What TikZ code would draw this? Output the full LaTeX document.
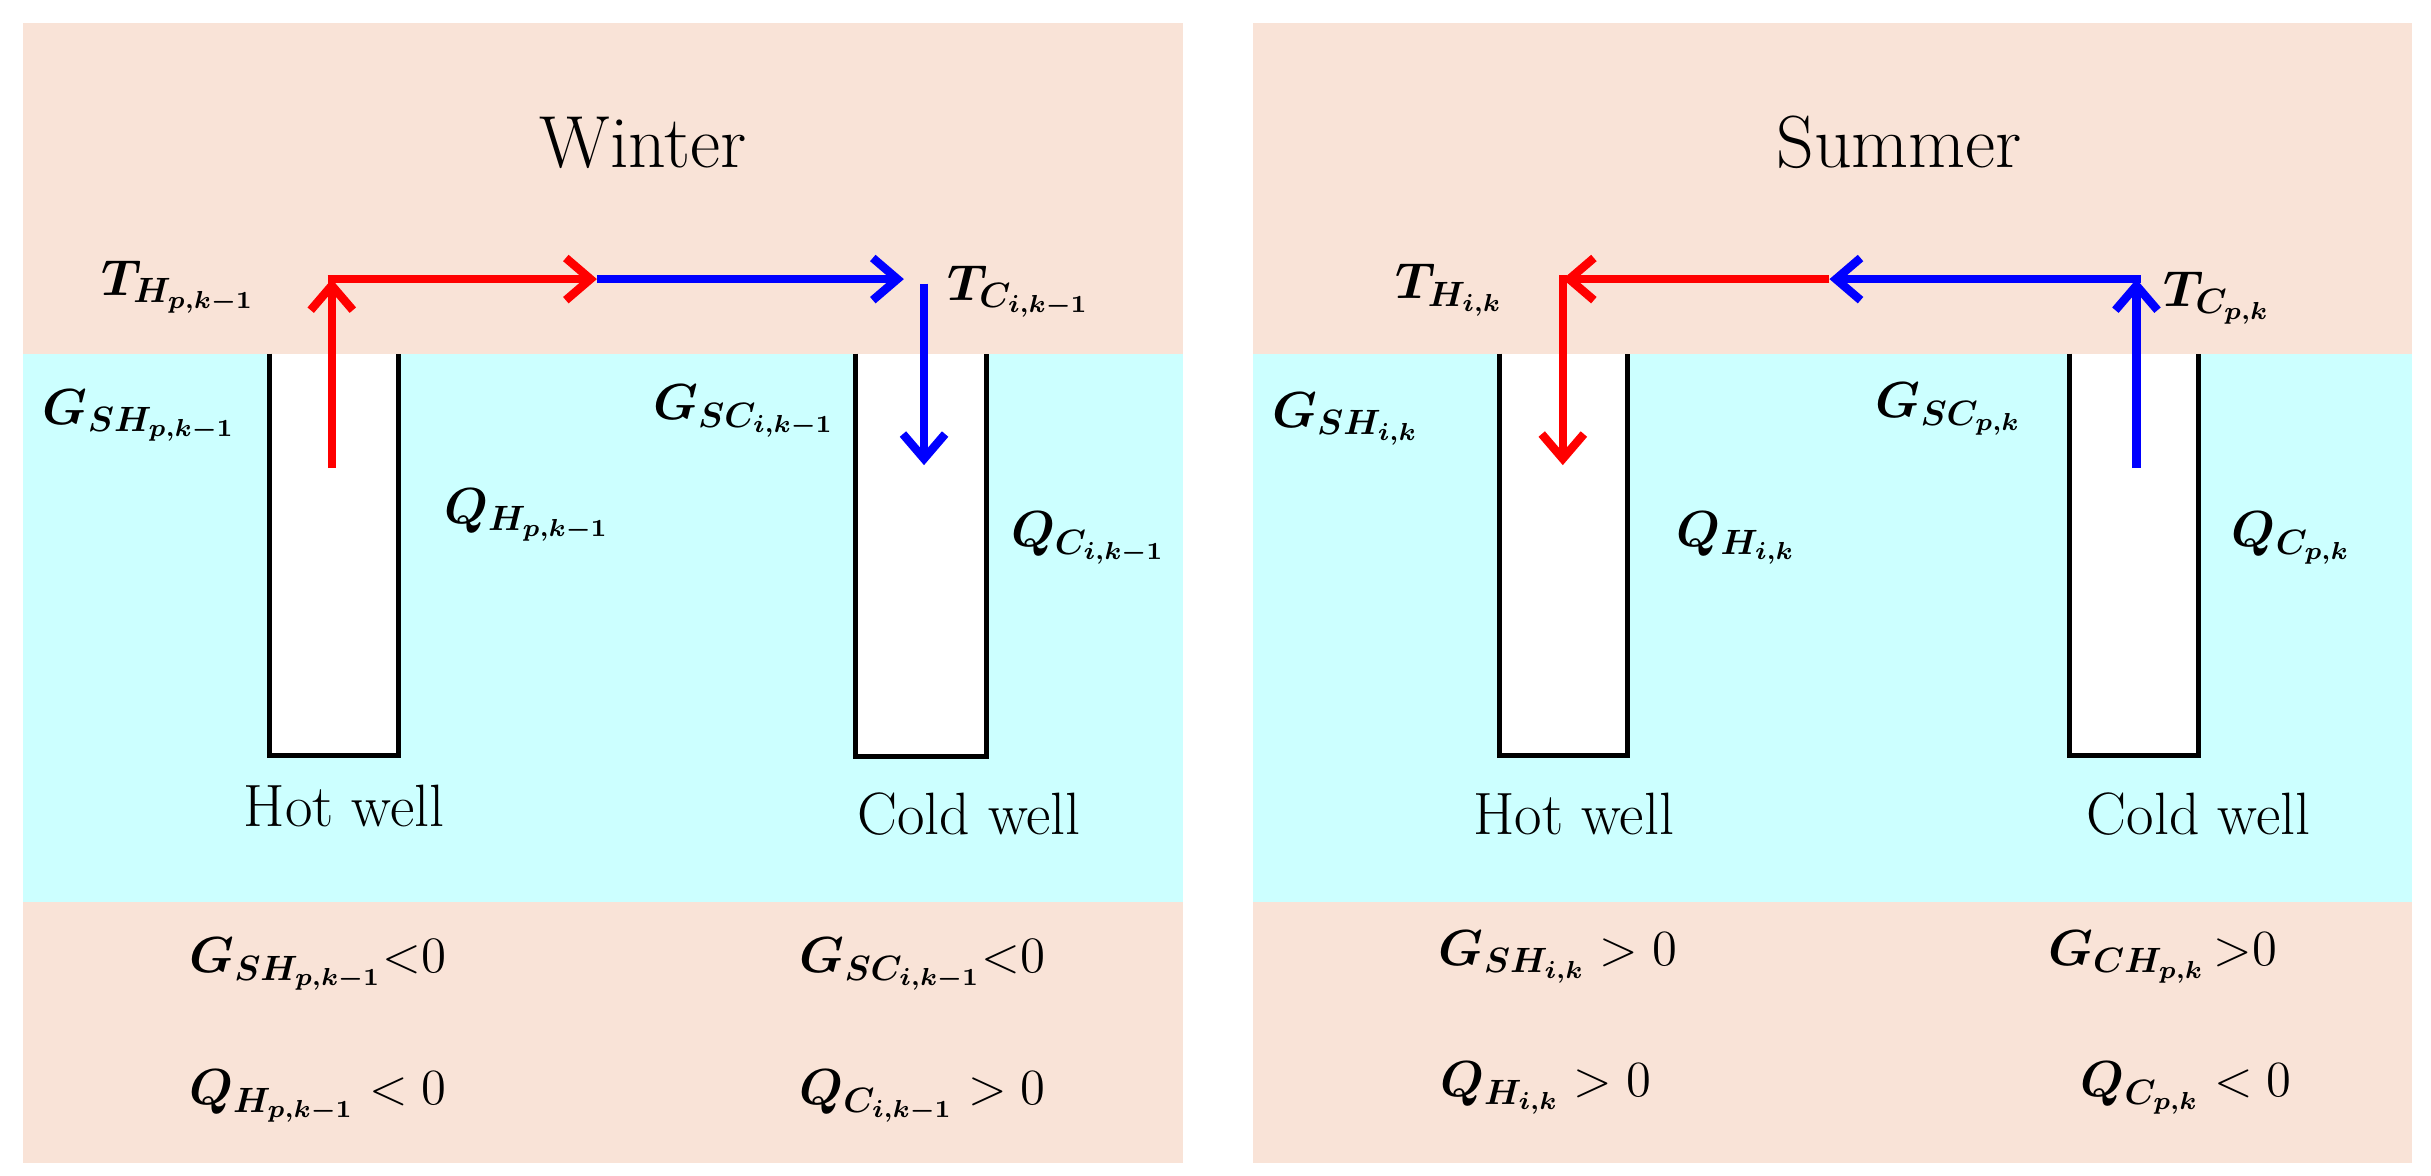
\documentclass[tikz,border=0pt]{standalone}
\usepackage{amsmath}
\usepackage{bm}
\usetikzlibrary{arrows.meta}
\usetikzlibrary{positioning}
\definecolor{peach}{HTML}{F9E3D7}
\definecolor{aqua}{HTML}{CCFFFF}
\begin{document}
\begin{tikzpicture}[x=0.0155cm,y=-0.0155cm,
    flow/.style={line width=2.4pt,-{Straight Barb[length=7pt,width=12pt,line width=2.4pt]}},
    well/.style={draw,line width=1.4pt,fill=white},
    lbl/.style={font=\fontsize{14.5}{17}\selectfont},
    title/.style={font=\fontsize{21}{25}\selectfont},
    wtext/.style={font=\fontsize{17}{20}\selectfont}]
  \useasboundingbox (0,0) rectangle (1568,758);
  % backgrounds
  \fill[peach] (15,15) rectangle (763,750);
  \fill[peach] (808,15) rectangle (1556,750);
  \fill[aqua] (15,228) rectangle (763,582);
  \fill[aqua] (808,228) rectangle (1556,582);
  % wells
  \draw[well] (174,228) -- (174,487) -- (257,487) -- (257,228);
  \draw[well] (552,228) -- (552,488) -- (636,488) -- (636,228);
  \draw[well] (967,228) -- (967,487) -- (1050,487) -- (1050,228);
  \draw[well] (1335,228) -- (1335,487) -- (1418,487) -- (1418,228);

  % winter
  \node[title] (win) at (415,92) {Winter};
  \coordinate (hpin) at (214,302);
  \coordinate (hptop) at (214,180);
  \coordinate (mid1) at (385,180);
  \coordinate (ctop1) at (583,180);
  \coordinate (cin) at (596,183);
  \coordinate (cbot) at (596,300);
  \draw[flow,red] (hpin) -- (hptop);
  \draw[flow,red,shorten <=-1.2pt] (hptop) -- (mid1);
  \draw[flow,blue] (mid1) -- (ctop1);
  \draw[flow,blue] (cin) -- (cbot);
  \node[lbl] (th1) at (115,185) {$\bm{T_{H_{p,k-1}}}$};
  \node[lbl] (tc1) at (657,188) {$\bm{T_{C_{i,k-1}}}$};
  \node[lbl] (gh1) at (90,268) {$\bm{G_{SH_{p,k-1}}}$};
  \node[lbl] (qh1) at (340,332) {$\bm{Q_{H_{p,k-1}}}$};
  \node[lbl] (gc1) at (480,265) {$\bm{G_{SC_{i,k-1}}}$};
  \node[lbl] (qc1) at (702,347) {$\bm{Q_{C_{i,k-1}}}$};
  \node[wtext] (hw1) at (222,520) {Hot well};
  \node[wtext] (cw1) at (625,525) {Cold well};
  \node[lbl] (r1) at (205,622) {$\bm{G_{SH_{p,k-1}}}${<}0};
  \node[lbl] (r2) at (205,707) {$\bm{Q_{H_{p,k-1}}} <0$};
  \node[lbl] (r3) at (595,622) {$\bm{G_{SC_{i,k-1}}}${<}0};
  \node[lbl] (r4) at (595,707) {$\bm{Q_{C_{i,k-1}}} >0$};

  % summer
  \node[title] (sum) at (1225,92) {Summer};
  \coordinate (cpin) at (1378,302);
  \coordinate (cptop) at (1378,180);
  \coordinate (mid2) at (1180,180);
  \coordinate (htop2) at (1008,180);
  \coordinate (hbot2) at (1008,300);
  \draw[flow,blue] (cpin) -- (cptop);
  \draw[flow,blue,shorten <=-1.2pt] (cptop) -- (mid2);
  \draw[flow,red] (mid2) -- (htop2);
  \draw[flow,red,shorten <=-1.2pt] (htop2) -- (hbot2);
  \node[lbl] (th2) at (935,187) {$\bm{T_{H_{i,k}}}$};
  \node[lbl] (tc2) at (1430,192) {$\bm{T_{C_{p,k}}}$};
  \node[lbl] (gh2) at (868,270) {$\bm{G_{SH_{i,k}}}$};
  \node[lbl] (qh2) at (1120,347) {$\bm{Q_{H_{i,k}}}$};
  \node[lbl] (gc2) at (1257,264) {$\bm{G_{SC_{p,k}}}$};
  \node[lbl] (qc2) at (1478,347) {$\bm{Q_{C_{p,k}}}$};
  \node[wtext] (hw2) at (1015,525) {Hot well};
  \node[wtext] (cw2) at (1418,525) {Cold well};
  \node[lbl] (r5) at (1005,617) {$\bm{G_{SH_{i,k}}} >0$};
  \node[lbl] (r6) at (1395,617) {$\bm{G_{CH_{p,k}}}\,{>}0$};
  \node[lbl] (r7) at (997,702) {$\bm{Q_{H_{i,k}}} >0$};
  \node[lbl] (r8) at (1410,702) {$\bm{Q_{C_{p,k}}} <0$};
\end{tikzpicture}
\end{document}
